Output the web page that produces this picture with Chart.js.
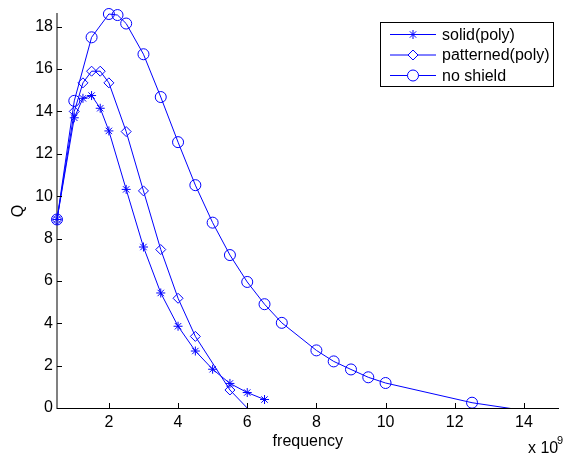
<!DOCTYPE html>
<html>
<head>
<meta charset="utf-8">
<script src="https://cdn.jsdelivr.net/npm/chart.js@4.4.0/dist/chart.umd.min.js"></script>
<style>
html, body { margin:0; padding:0; background:#fff; }
#wrap { width:565px; height:456px; }
</style>
</head>
<body>
<div id="wrap"><canvas id="qChart" width="565" height="456"></canvas></div>
<script>
// ===============================
// DATA (frequency in units of 1e9)
// ===============================

const seriesNames = ["solid(poly)", "patterned(poly)", "no shield"];

const freqSolid = [0.5, 1.0, 1.25, 1.5, 1.75, 2.0, 2.5, 3.0, 3.5, 4.0, 4.5, 5.0, 5.5, 6.0, 6.5];
const qSolid    = [8.9, 13.7, 14.62, 14.75, 14.15, 13.08, 10.32, 7.6, 5.43, 3.86, 2.69, 1.83, 1.16, 0.73, 0.4];

const freqPatterned = [0.5, 1.0, 1.25, 1.5, 1.75, 2.0, 2.5, 3.0, 3.5, 4.0, 4.5, 5.5, 6.5];
const qPatterned    = [8.9, 14.0, 15.35, 15.9, 15.9, 15.35, 13.05, 10.25, 7.48, 5.18, 3.38, 0.85, -0.85];

const freqNoShield = [0.5, 1.0, 1.5, 2.0, 2.25, 2.5, 3.0, 3.5, 4.0, 4.5, 5.0, 5.5, 6.0, 6.5, 7.0, 8.0, 8.5, 9.0, 9.5, 10.0, 12.5, 15.0];
const qNoShield    = [8.9, 14.5, 17.5, 18.6, 18.55, 18.15, 16.7, 14.68, 12.55, 10.52, 8.75, 7.22, 5.95, 4.9, 4.02, 2.72, 2.2, 1.82, 1.45, 1.18, 0.25, -0.36];

const xTicks = [2, 4, 6, 8, 10, 12, 14];
const yTicks = [0, 2, 4, 6, 8, 10, 12, 14, 16, 18];

const xMin = 0.5, xMax = 15;
const yMin = 0;
const yMax = Math.max(...qSolid, ...qPatterned, ...qNoShield);

const FONT = '"Liberation Sans", Arial, Helvetica, sans-serif';
const BLUE = '#0000ff';
const markerStyles = ["star", "rectRot", "circle"];
const markerSizes = [4.5, 5, 5.5];

function toPoints(xs, ys) {
  return xs.map((x, i) => ({ x: x, y: ys[i] }));
}

// legend marker, drawn by hand so the colour is sure
function legendMarker(ctx, style, r, x, y) {
  ctx.beginPath();
  if (style === "circle") {
    ctx.arc(x, y, r, 0, Math.PI * 2);
    ctx.fill();
  } else if (style === "rectRot") {
    ctx.moveTo(x, y - r);
    ctx.lineTo(x + r, y);
    ctx.lineTo(x, y + r);
    ctx.lineTo(x - r, y);
    ctx.closePath();
    ctx.fill();
  } else {
    for (let k = 0; k < 4; k++) {
      const a = k * Math.PI / 4;
      ctx.moveTo(x - Math.cos(a) * r, y - Math.sin(a) * r);
      ctx.lineTo(x + Math.cos(a) * r, y + Math.sin(a) * r);
    }
  }
  ctx.stroke();
}

// ===============================
// MATLAB style decorations
// ===============================

const matlabDecor = {
  id: "matlabDecor",
  afterDraw(chart) {
    const ctx = chart.ctx;
    const area = chart.chartArea;
    const xs = chart.scales.x;
    const ys = chart.scales.y;

    ctx.save();

    // inward ticks
    ctx.strokeStyle = "#000";
    ctx.lineWidth = 1;
    xTicks.forEach(v => {
      const px = Math.round(xs.getPixelForValue(v)) + 0.5;
      ctx.beginPath();
      ctx.moveTo(px, area.bottom);
      ctx.lineTo(px, area.bottom - 5);
      ctx.stroke();
    });
    yTicks.forEach(v => {
      const py = Math.round(ys.getPixelForValue(v)) + 0.5;
      ctx.beginPath();
      ctx.moveTo(area.left, py);
      ctx.lineTo(area.left + 5, py);
      ctx.stroke();
    });

    // axis labels
    ctx.fillStyle = "#000";
    ctx.font = "16px " + FONT;
    ctx.textAlign = "center";
    ctx.textBaseline = "alphabetic";
    ctx.fillText("frequency", (area.left + area.right) / 2, 446);

    ctx.save();
    ctx.translate(23, (area.top + area.bottom) / 2);
    ctx.rotate(-Math.PI / 2);
    ctx.fillText("Q", 0, 0);
    ctx.restore();

    // exponent
    ctx.textAlign = "left";
    ctx.fillText("x 10", 528, 453);
    ctx.font = "11px " + FONT;
    ctx.fillText("9", 557, 444);

    // legend box
    const lx = 380.5, ly = 22.5, lw = 173, lh = 64;
    ctx.fillStyle = "#fff";
    ctx.fillRect(lx, ly, lw, lh);
    ctx.strokeStyle = "#000";
    ctx.lineWidth = 1;
    ctx.strokeRect(lx, ly, lw, lh);

    ctx.font = "16px " + FONT;
    ctx.textBaseline = "middle";
    seriesNames.forEach((name, i) => {
      const yy = 34.5 + i * 20.5;
      ctx.strokeStyle = BLUE;
      ctx.lineWidth = 1;
      ctx.beginPath();
      ctx.moveTo(390, yy);
      ctx.lineTo(436, yy);
      ctx.stroke();
      ctx.fillStyle = "#fff";
      legendMarker(ctx, markerStyles[i], markerSizes[i], 413, yy);
      ctx.fillStyle = "#000";
      ctx.fillText(name, 442, yy + 1);
    });

    ctx.restore();
  }
};

// ===============================
// CHART
// ===============================

const seriesData = [
  toPoints(freqSolid, qSolid),
  toPoints(freqPatterned, qPatterned),
  toPoints(freqNoShield, qNoShield)
];

const qChart = new Chart(document.getElementById("qChart"), {
  type: "line",
  data: {
    datasets: seriesNames.map((name, i) => ({
      label: name,
      data: seriesData[i],
      borderColor: BLUE,
      borderWidth: 1,
      backgroundColor: "rgba(0,0,0,0)",
      pointStyle: markerStyles[i],
      pointRadius: markerSizes[i],
      pointBorderColor: BLUE,
      pointBackgroundColor: "rgba(0,0,0,0)",
      pointBorderWidth: 1,
      tension: 0,
      fill: false,
      // let markers at the top/left edge show like matlab, keep the bottom cut
      clip: { left: 8, top: 8, right: 0, bottom: 0 }
    }))
  },
  options: {
    responsive: false,
    animation: false,
    devicePixelRatio: 1,
    layout: { padding: { top: 14, right: 0, left: 0, bottom: 0 } },
    plugins: {
      legend: { display: false },
      tooltip: { enabled: false }
    },
    scales: {
      x: {
        type: "linear",
        min: xMin,
        max: xMax,
        afterBuildTicks: s => { s.ticks = xTicks.map(v => ({ value: v })); },
        afterFit: s => { s.height = 48; },
        grid: { display: false, drawTicks: false },
        border: { display: true, color: "#000", width: 1 },
        ticks: {
          padding: 5,
          maxRotation: 0,
          autoSkip: false,
          color: "#000",
          font: { family: FONT, size: 16 }
        }
      },
      y: {
        type: "linear",
        min: yMin,
        max: yMax,
        afterBuildTicks: s => { s.ticks = yTicks.map(v => ({ value: v })); },
        afterFit: s => { s.width = 57; },
        grid: { display: false, drawTicks: false },
        border: { display: true, color: "#808080", width: 2 },
        ticks: {
          padding: 4,
          autoSkip: false,
          color: "#000",
          font: { family: FONT, size: 16 }
        }
      }
    }
  },
  plugins: [matlabDecor]
});
</script>
</body>
</html>
